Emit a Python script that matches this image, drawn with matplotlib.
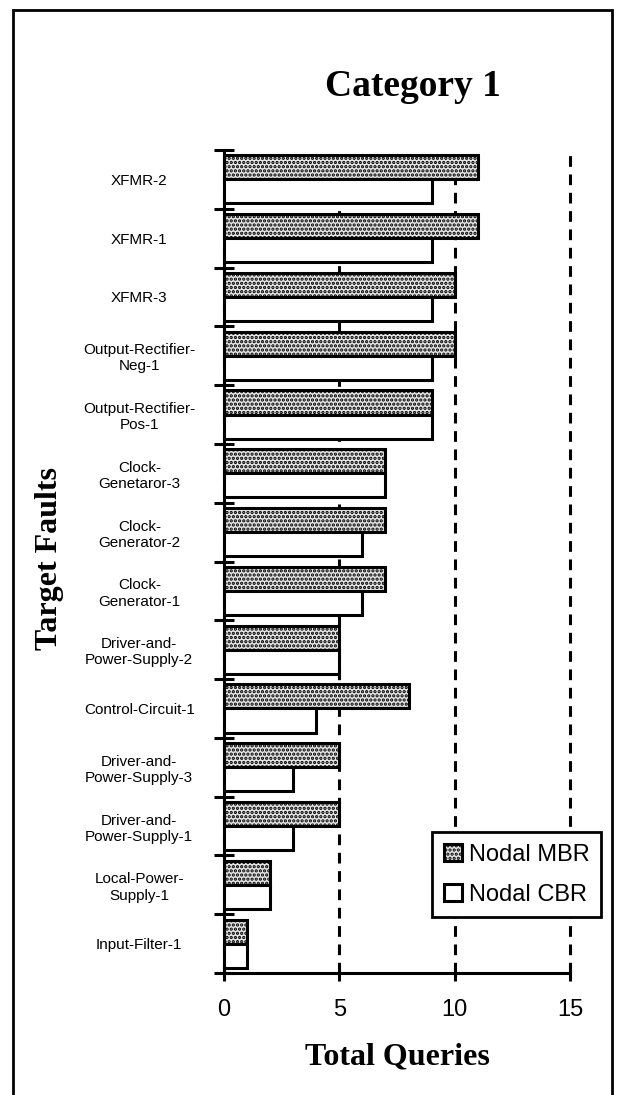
import numpy as np
import matplotlib
matplotlib.use("Agg")
import matplotlib.pyplot as plt
from matplotlib.patches import Rectangle

# data, top to bottom as in the chart
faults = ["XFMR-2", "XFMR-1", "XFMR-3", "Output-Rectifier-\nNeg-1",
          "Output-Rectifier-\nPos-1", "Clock-\nGenetaror-3", "Clock-\nGenerator-2",
          "Clock-\nGenerator-1", "Driver-and-\nPower-Supply-2", "Control-Circuit-1",
          "Driver-and-\nPower-Supply-3", "Driver-and-\nPower-Supply-1",
          "Local-Power-\nSupply-1", "Input-Filter-1"]
mbr = [11, 11, 10, 10, 9, 7, 7, 7, 5, 8, 5, 5, 2, 1]
cbr = [9, 9, 9, 9, 9, 7, 6, 6, 5, 4, 3, 3, 2, 1]
xticks = [0, 5, 10, 15]

sans = "Liberation Sans"
serif = "Liberation Serif"
plt.rcParams["hatch.linewidth"] = 1.6

fig = plt.figure(figsize=(6.19, 10.95), dpi=100)
ax = fig.add_axes([224 / 619, 1 - 973 / 1095, (570 - 224) / 619, (973 - 150) / 1095])

y = np.arange(len(faults))
h = 0.41
ax.barh(y - 0.205, mbr, height=h, color="#e4e4e4", hatch="....",
        edgecolor="black", linewidth=2.2, label="Nodal MBR", zorder=3)
ax.barh(y + 0.205, cbr, height=h, color="white",
        edgecolor="black", linewidth=2.2, label="Nodal CBR", zorder=3)

ax.set_xlim(0, 15)
ax.set_ylim(len(faults) - 0.5, -0.5)

ax.set_xticks(xticks)
ax.set_xticklabels([str(v) for v in xticks], fontsize=17, family=sans)
ax.tick_params(axis="x", direction="inout", length=11, width=2.2, pad=13)

ax.set_yticks(y)
ax.set_yticklabels(faults, fontsize=11, family=sans, ha="center")
ax.tick_params(axis="y", which="major", length=0, pad=61)
ax.set_yticks(np.arange(len(faults) + 1) - 0.5, minor=True)
ax.tick_params(axis="y", which="minor", direction="inout", length=14, width=2.2)

ax.xaxis.grid(True, color="black", linestyle=(0, (3.5, 2.5)), linewidth=2.2)
for gl in ax.get_xgridlines():
    gl.set_clip_on(False)
ax.set_axisbelow(True)

for s in ["top", "right"]:
    ax.spines[s].set_visible(False)
for s in ["left", "bottom"]:
    ax.spines[s].set_linewidth(2.2)

fig.text(413 / 619, 1 - 87 / 1095, "Category 1", ha="center", va="center",
         fontsize=27, fontweight="bold", family=serif)
fig.text(397 / 619, 1 - 1057 / 1095, "Total Queries", ha="center", va="center",
         fontsize=23, fontweight="bold", family=serif)
fig.text(49 / 619, 1 - 558 / 1095, "Target Faults", ha="center", va="center",
         rotation=90, fontsize=23, fontweight="bold", family=serif)

leg = fig.legend(loc="upper left", bbox_to_anchor=(432 / 619, 1 - 832 / 1095),
                 prop={"family": sans, "size": 17}, frameon=True, fancybox=False,
                 handlelength=0.75, handleheight=0.75, handletextpad=0.3,
                 borderaxespad=0, borderpad=0.5, labelspacing=0.75)
leg.get_frame().set_edgecolor("black")
leg.get_frame().set_linewidth(2)
leg.get_frame().set_alpha(1)

# outer frame around the chart
fig.patches.append(Rectangle((13 / 619, -0.05), (612 - 13) / 619, 0.05 + 1 - 10 / 1095,
                             transform=fig.transFigure, fill=False,
                             edgecolor="black", linewidth=2, clip_on=False))

fig.savefig("out.png", dpi=100)
